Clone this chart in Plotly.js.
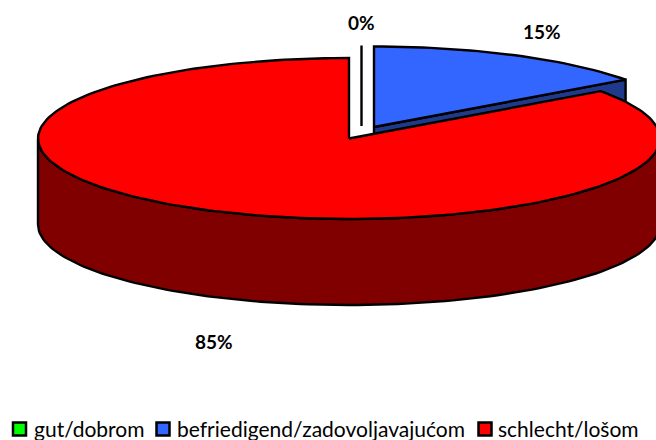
<!DOCTYPE html>
<html>
<head>
<meta charset="utf-8">
<script src="https://cdn.plot.ly/plotly-3.0.1.min.js"></script>
<style>html,body{margin:0;padding:0;background:#fff;overflow:hidden}</style>
</head>
<body>
<div id="chart" style="width:656px;height:440px"></div>
<script>
const categories = ['gut/dobrom', 'befriedigend/zadovoljavajućom', 'schlecht/lošom'];
const shares = [0, 15, 85];
const topColors = ['#00FF00', '#3366FF', '#FF0000'];
const wallColors = ['#008000', '#1F3A8A', '#800000'];

// projection of the tilted pie
const rx = 311, ry = 80.5, depth = 86;
const centers = [[361.5, 126], [374, 127], [349, 138.5]];

let acc = 0;
const spans = shares.map(s => { const a = acc; acc += s; return [a * 3.6, acc * 3.6]; });
const rad = d => d * Math.PI / 180;
const pt = (c, t, dz = 0) => [c[0] + rx * Math.sin(rad(t)), c[1] - ry * Math.cos(rad(t)) + dz];
function arc(c, a, b, dz = 0) {
  const out = [];
  const n = Math.max(1, Math.ceil((b - a) / 1.5));
  for (let i = 0; i <= n; i++) out.push(pt(c, a + (b - a) * i / n, dz));
  return out;
}
function poly(points, color, width = 2.4) {
  return {
    type: 'scatter', mode: 'lines', x: points.map(p => p[0]), y: points.map(p => p[1]),
    fill: color ? 'toself' : 'none', fillcolor: color || undefined,
    line: { color: '#000', width, shape: 'linear' }, showlegend: false, hoverinfo: 'skip'
  };
}
function topFace(i) {
  const c = centers[i];
  return poly([c, ...arc(c, spans[i][0], spans[i][1]), c], topColors[i]);
}
function innerWall(i) {
  const c = centers[i], e = pt(c, spans[i][1]);
  return poly([c, e, [e[0], e[1] + depth], [c[0], c[1] + depth], c], wallColors[i]);
}
function outerWall(i) {
  const c = centers[i];
  const a = Math.max(spans[i][0], 90), b = Math.min(spans[i][1], 270);
  const up = arc(c, a, b), down = arc(c, a, b, depth).reverse();
  return poly([...up, ...down, up[0]], wallColors[i]);
}

const traces = [
  innerWall(1), topFace(1),
  topFace(0),
  outerWall(2), topFace(2)
];

// legend row
const keyX = [19.5, 163, 485];
const keyTextX = [33, 176, 497];
const keyY = 429;
traces.push({
  type: 'scatter', mode: 'markers', x: keyX, y: categories.map(() => keyY),
  text: categories, showlegend: false, hoverinfo: 'skip',
  marker: { symbol: 'square', size: 13, color: topColors, line: { color: '#000', width: 2.5 } }
});

const labelPos = [[361, 22], [542, 31], [213.5, 341]];
const layout = {
  width: 656, height: 440,
  margin: { l: 0, r: 0, t: 0, b: 0 },
  paper_bgcolor: '#fff', plot_bgcolor: '#fff',
  xaxis: { visible: false, range: [0, 656], fixedrange: true },
  yaxis: { visible: false, range: [440, 0], fixedrange: true },
  showlegend: false,
  annotations: [
    ...shares.map((s, i) => ({
      x: labelPos[i][0], y: labelPos[i][1], xref: 'x', yref: 'y', showarrow: false,
      text: '<b>' + s + '%</b>',
      font: { family: 'Lato, sans-serif', size: 19, color: '#000' }
    })),
    ...categories.map((c, i) => ({
      x: keyTextX[i], y: keyY - 1, xref: 'x', yref: 'y', showarrow: false,
      xanchor: 'left', yanchor: 'middle', xshift: -1, text: c,
      font: { family: 'Lato, sans-serif', size: 21, color: '#000' }
    }))
  ]
};
Plotly.newPlot('chart', traces, layout, { displayModeBar: false, staticPlot: true });
</script>
</body>
</html>
